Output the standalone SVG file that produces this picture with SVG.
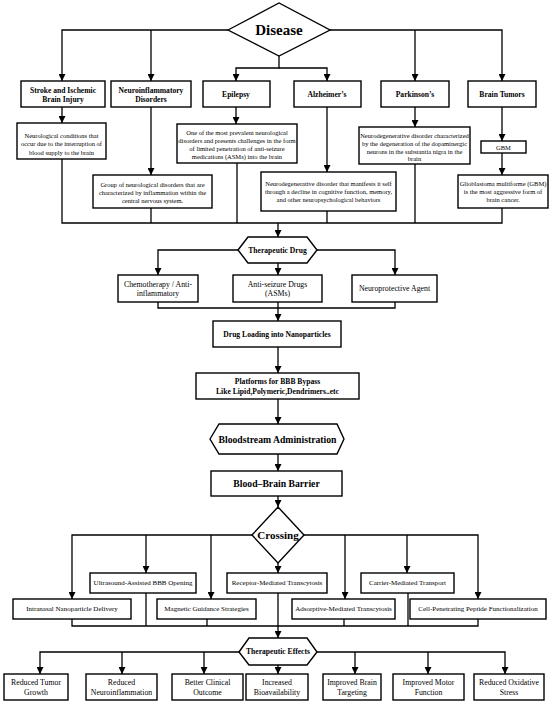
<svg xmlns="http://www.w3.org/2000/svg" width="550" height="705" viewBox="0 0 550 705">
<defs>
<marker id="ah" viewBox="0 0 10 10" refX="10" refY="5" markerWidth="7" markerHeight="7" markerUnits="userSpaceOnUse" orient="auto">
<path d="M0,0 L10,5 L0,10 z" fill="#000"/>
</marker>
<style>
.b{fill:#fff;stroke:#000;stroke-width:1.4}
.c{fill:none;stroke:#000;stroke-width:1.3}
.a{marker-end:url(#ah)}
text{font-family:"Liberation Serif","Times New Roman",serif;fill:#000;text-anchor:middle;dominant-baseline:central}
.h{font-weight:bold;font-size:7.6px}
.d{font-size:6.5px}
.r{font-size:7.8px}
.s{font-size:7px}
</style>
</defs>
<rect width="550" height="705" fill="#fff"/>
<g id="connectors">
<path class="c a" d="M228,30 H62 V81"/>
<path class="c a" d="M151,30 V81"/>
<path class="c a" d="M330,30 H502 V81"/>
<path class="c a" d="M415,30 V81"/>
<path class="c a" d="M279,56 V68 H236 V81"/>
<path class="c a" d="M279,68 H327 V81"/>
<path class="c a" d="M62,107 V123"/>
<path class="c a" d="M151,107 V175"/>
<path class="c a" d="M236,107 V124"/>
<path class="c a" d="M327,107 V172"/>
<path class="c a" d="M415,107 V127"/>
<path class="c a" d="M502,107 V141"/>
<path class="c a" d="M502,153 V175"/>
<path class="c" d="M62,159 V223 H502 V208"/>
<path class="c" d="M151,208 V223"/>
<path class="c" d="M237,163 V223"/>
<path class="c" d="M327,211 V223"/>
<path class="c" d="M415,164 V223"/>
<path class="c a" d="M278,223 V237"/>
<path class="c a" d="M238,250 H158 V275"/>
<path class="c a" d="M317,250 H395 V275"/>
<path class="c a" d="M278,263 V275"/>
<path class="c" d="M158,302 V308 H395 V302"/>
<path class="c a" d="M278,302 V321"/>
<path class="c a" d="M278,347 V373"/>
<path class="c a" d="M278,399 V424"/>
<path class="c a" d="M278,454 V471"/>
<path class="c a" d="M278,496 V507"/>
<path class="c a" d="M252,535 H72 V599"/>
<path class="c a" d="M146,535 V573"/>
<path class="c a" d="M211,535 V599"/>
<path class="c a" d="M304,535 H478 V599"/>
<path class="c a" d="M345,535 V599"/>
<path class="c a" d="M407,535 V573"/>
<path class="c a" d="M278,563 V573"/>
<path class="c" d="M72,619 V626 H478 V619"/>
<path class="c" d="M146,593 V626"/>
<path class="c" d="M207,619 V626"/>
<path class="c" d="M278,593 V626"/>
<path class="c" d="M344,619 V626"/>
<path class="c" d="M408,593 V626"/>
<path class="c a" d="M278,626 V638"/>
<path class="c a" d="M239,652 H40 V674"/>
<path class="c a" d="M122,652 V674"/>
<path class="c a" d="M204,652 V674"/>
<path class="c a" d="M317,652 H505 V674"/>
<path class="c a" d="M355,652 V674"/>
<path class="c a" d="M428,652 V674"/>
<path class="c a" d="M278,665 V674"/>
</g>
<g id="disease">
<polygon class="b" points="228,30 279,3 330,30 279,56"/>
<text x="279" y="30" style="font-weight:bold;font-size:15px">Disease</text>
</g>
<g id="stroke">
<rect class="b" x="21" y="81" width="84" height="26"/>
<text class="h" x="63" y="90">Stroke and Ischemic</text>
<text class="h" x="63" y="99">Brain Injury</text>
</g>
<g id="neuroinflammatory">
<rect class="b" x="111" y="81" width="80" height="26"/>
<text class="h" x="151" y="90">Neuroinflammatory</text>
<text class="h" x="151" y="99">Disorders</text>
</g>
<g id="epilepsy">
<rect class="b" x="203" y="81" width="67" height="26"/>
<text class="h" x="236" y="94.5">Epilepsy</text>
</g>
<g id="alzheimers">
<rect class="b" x="294" y="81" width="67" height="26"/>
<text class="h" x="327" y="94.5">Alzheimer’s</text>
</g>
<g id="parkinsons">
<rect class="b" x="381" y="81" width="68" height="26"/>
<text class="h" x="415" y="94.5">Parkinson’s</text>
</g>
<g id="brain-tumors">
<rect class="b" x="468" y="81" width="68" height="26"/>
<text class="h" x="502" y="94.5">Brain Tumors</text>
</g>
<g id="stroke-desc">
<rect class="b" x="17" y="123" width="89" height="36"/>
<text class="d" x="61.5" y="135.5">Neurological conditions that</text>
<text class="d" x="61.5" y="143.8">occur due to the interruption of</text>
<text class="d" x="61.5" y="152">blood supply to the brain</text>
</g>
<g id="neuroinflammatory-desc">
<rect class="b" x="93" y="175" width="119" height="33"/>
<text class="d" x="152.5" y="184">Group of neurological disorders that are</text>
<text class="d" x="152.5" y="192">characterized by inflammation within the</text>
<text class="d" x="152.5" y="200">central nervous system.</text>
</g>
<g id="epilepsy-desc">
<rect class="b" x="177" y="124" width="120" height="39"/>
<text class="d" x="237" y="132">One of the most prevalent neurological</text>
<text class="d" x="237" y="140">disorders and presents challenges in the form</text>
<text class="d" x="237" y="148">of limited penetration of anti-seizure</text>
<text class="d" x="237" y="156">medications (ASMs) into the brain</text>
</g>
<g id="alzheimers-desc">
<rect class="b" x="261" y="172" width="135" height="39"/>
<text class="d" x="328.5" y="183.5">Neurodegenerative disorder that manifests it self</text>
<text class="d" x="328.5" y="191.5">through a decline in cognitive function, memory,</text>
<text class="d" x="328.5" y="199.5">and other neuropsychological behaviors</text>
</g>
<g id="parkinsons-desc">
<rect class="b" x="359" y="127" width="111" height="37"/>
<text class="d" x="414.5" y="135">Neurodegenerative disorder characterized</text>
<text class="d" x="414.5" y="143">by the degeneration of the dopaminergic</text>
<text class="d" x="414.5" y="151">neurons in the substantia nigra in the</text>
<text class="d" x="414.5" y="158.5">brain</text>
</g>
<g id="gbm">
<rect class="b" x="481" y="141" width="45" height="12"/>
<text class="d" x="503.5" y="147">GBM</text>
</g>
<g id="glioblastoma-desc">
<rect class="b" x="458" y="175" width="90" height="33"/>
<text class="d" x="503" y="183">Glioblastoma multiforme (GBM)</text>
<text class="d" x="503" y="191">is the most aggressive form of</text>
<text class="d" x="503" y="199">brain cancer.</text>
</g>
<g id="therapeutic-drug">
<polygon class="b" points="238,250 248,237 307,237 317,250 307,263 248,263"/>
<text class="h" x="277.5" y="250">Therapeutic Drug</text>
</g>
<g id="chemo">
<rect class="b" x="118" y="275" width="80" height="27"/>
<text class="r" x="158" y="284">Chemotherapy / Anti-</text>
<text class="r" x="158" y="293.5">inflammatory</text>
</g>
<g id="anti-seizure">
<rect class="b" x="233" y="275" width="89" height="27"/>
<text class="r" x="277.5" y="284">Anti-seizure Drugs</text>
<text class="r" x="277.5" y="293.5">(ASMs)</text>
</g>
<g id="neuroprotective">
<rect class="b" x="352" y="275" width="85" height="27"/>
<text class="r" x="394.5" y="288.5">Neuroprotective Agent</text>
</g>
<g id="drug-loading">
<rect class="b" x="213" y="321" width="128" height="26"/>
<text class="h" x="277" y="334">Drug Loading into Nanoparticles</text>
</g>
<g id="platforms">
<rect class="b" x="196" y="373" width="163" height="26"/>
<text class="h" x="277.5" y="381.5">Platforms for BBB Bypass</text>
<text class="h" x="277.5" y="391">Like Lipid,Polymeric,Dendrimers..etc</text>
</g>
<g id="bloodstream">
<polygon class="b" points="210,439 219,424 337,424 344,439 337,454 219,454"/>
<text x="277.5" y="439" style="font-weight:bold;font-size:9.7px">Bloodstream Administration</text>
</g>
<g id="bbb">
<rect class="b" x="211" y="471" width="131" height="25"/>
<text x="276.5" y="483.5" style="font-weight:bold;font-size:9.7px">Blood–Brain Barrier</text>
</g>
<g id="crossing">
<polygon class="b" points="252,535 278,507 304,535 278,563"/>
<text x="278" y="535" style="font-weight:bold;font-size:11px">Crossing</text>
</g>
<g id="ultrasound">
<rect class="b" x="90" y="573" width="106" height="20"/>
<text class="s" x="143" y="583">Ultrasound-Assisted BBB Opening</text>
</g>
<g id="receptor">
<rect class="b" x="227" y="573" width="100" height="20"/>
<text class="s" x="277" y="583">Receptor-Mediated Transcytosis</text>
</g>
<g id="carrier">
<rect class="b" x="361" y="573" width="93" height="20"/>
<text class="s" x="407.5" y="583">Carrier-Mediated Transport</text>
</g>
<g id="intranasal">
<rect class="b" x="13" y="599" width="118" height="20"/>
<text class="s" x="72" y="609">Intranasal Nanoparticle Delivery</text>
</g>
<g id="magnetic">
<rect class="b" x="157" y="599" width="99" height="20"/>
<text class="s" x="206.5" y="609">Magnetic Guidance Strategies</text>
</g>
<g id="adsorptive">
<rect class="b" x="292" y="599" width="103" height="20"/>
<text class="s" x="343.5" y="609">Adsorptive-Mediated Transcytosis</text>
</g>
<g id="cell-penetrating">
<rect class="b" x="410" y="599" width="136" height="20"/>
<text class="s" x="478" y="609">Cell-Penetrating Peptide Functionalization</text>
</g>
<g id="therapeutic-effects">
<polygon class="b" points="239,652 249,638 307,638 317,652 307,665 249,665"/>
<text class="h" x="278" y="651.5">Therapeutic Effects</text>
</g>
<g id="tumor-growth">
<rect class="b" x="4" y="674" width="64" height="26"/>
<text class="r" x="36" y="682.5">Reduced Tumor</text>
<text class="r" x="36" y="692">Growth</text>
</g>
<g id="neuroinflammation">
<rect class="b" x="86" y="674" width="71" height="26"/>
<text class="r" x="121.5" y="682.5">Reduced</text>
<text class="r" x="121.5" y="692">Neuroinflammation</text>
</g>
<g id="clinical-outcome">
<rect class="b" x="172" y="674" width="71" height="26"/>
<text class="r" x="207.5" y="682.5">Better Clinical</text>
<text class="r" x="207.5" y="692">Outcome</text>
</g>
<g id="bioavailability">
<rect class="b" x="246" y="674" width="62" height="26"/>
<text class="r" x="277" y="682.5">Increased</text>
<text class="r" x="277" y="692">Bioavailability</text>
</g>
<g id="brain-targeting">
<rect class="b" x="323" y="674" width="58" height="26"/>
<text class="r" x="352" y="682.5">Improved Brain</text>
<text class="r" x="352" y="692">Targeting</text>
</g>
<g id="motor-function">
<rect class="b" x="393" y="674" width="71" height="26"/>
<text class="r" x="428.5" y="682.5">Improved Motor</text>
<text class="r" x="428.5" y="692">Function</text>
</g>
<g id="oxidative-stress">
<rect class="b" x="474" y="674" width="70" height="26"/>
<text class="r" x="509" y="682.5">Reduced Oxidative</text>
<text class="r" x="509" y="692">Stress</text>
</g>
</svg>
